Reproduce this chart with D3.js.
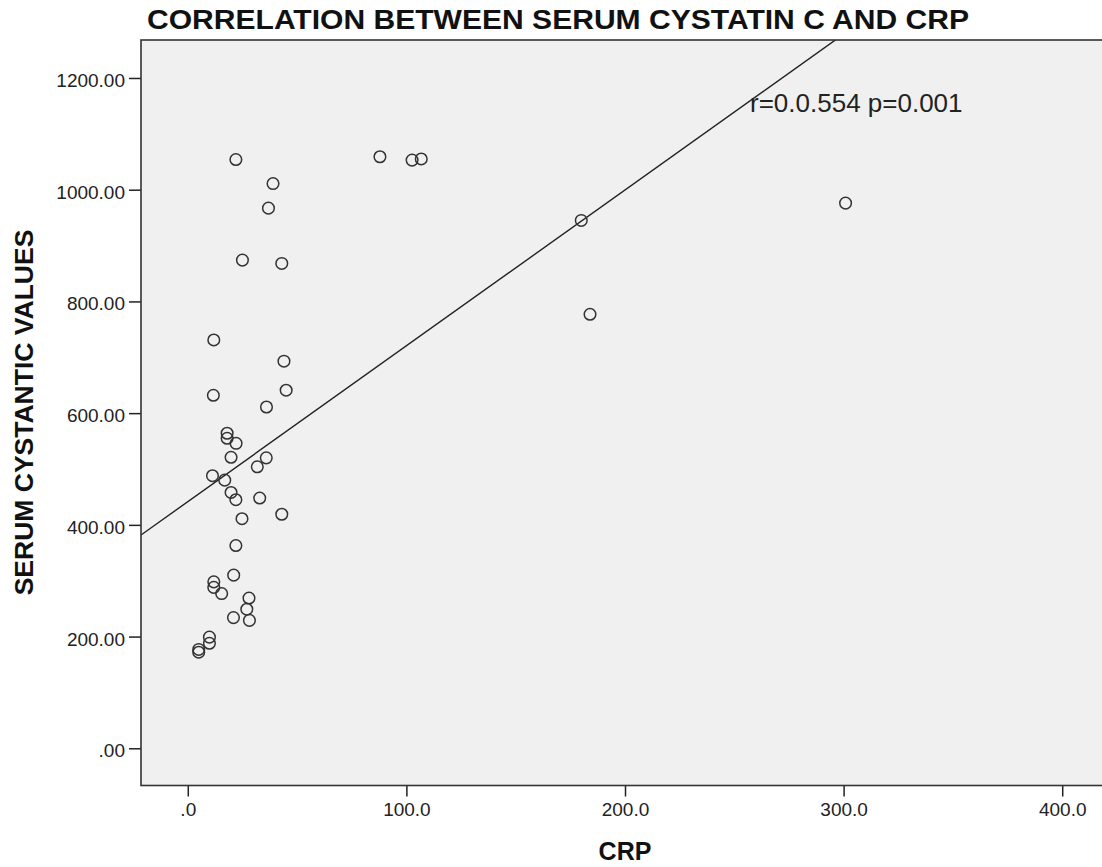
<!DOCTYPE html>
<html>
<head>
<meta charset="utf-8">
<script src="https://cdn.jsdelivr.net/npm/d3@7"></script>
<style>
    body { margin: 0; background: #fff; }
    svg { display: block; font-family: Arial, 'Liberation Sans', sans-serif; }
</style>
</head>
<body>
<svg class="scatter" width="1102" height="867"></svg>
<script>
// CRP (x) and serum cystatin C (y)
const crp = [
    22.0, 39.0, 36.9, 25.0, 43.0, 11.9, 44.0, 11.7, 45.0, 36.0,
    18.0, 18.0, 22.1, 19.8, 35.9, 31.8, 11.3, 16.9, 19.8, 22.0,
    32.9, 43.0, 24.8, 22.0, 21.0, 11.9, 11.9, 15.5, 28.0, 27.0,
    20.9, 28.2, 9.9, 9.9, 5.0, 5.0, 87.9, 102.6, 106.8, 180.0,
    184.0, 300.9
];
const cystatin = [
    1054, 1011, 967, 874, 868, 731, 693, 632, 641, 611,
    564, 555, 546, 521, 520, 504, 488, 480, 458, 445,
    448, 419, 411, 363, 310, 298, 288, 277, 269, 249,
    234, 229, 199, 188, 177, 172, 1059, 1053, 1055, 945,
    777, 976
];

const xTicks = [0, 100, 200, 300, 400];
const xTickLabels = ['.0', '100.0', '200.0', '300.0', '400.0'];
const yTicks = [0, 200, 400, 600, 800, 1000, 1200];
const yTickLabels = ['.00', '200.00', '400.00', '600.00', '800.00', '1000.00', '1200.00'];

// fit line drawn on the chart
const fitIntercept = 441.5;
const fitSlope = 2.79;

const titleText = 'CORRELATION BETWEEN SERUM CYSTATIN C AND CRP';
const xTitle = 'CRP';
const yTitle = 'SERUM CYSTANTIC VALUES';
const note = 'r=0.0.554 p=0.001';

const data = crp.map((c, i) => ({ crp: c, cys: cystatin[i] }));

const svg = d3.select('.scatter');

// plot box (right side runs past the picture edge, as in the original)
const box = { left: 141, top: 40, right: 1109, bottom: 785.5 };

const xScale = d3.scaleLinear()
    .domain([-21.4, 421.4])
    .range([box.left, box.right]);

const yScale = d3.scaleLinear()
    .domain([-66.6, 1268])
    .range([box.bottom, box.top]);

svg.append('defs').append('clipPath')
    .attr('id', 'plotClip')
    .append('rect')
    .attr('x', box.left)
    .attr('y', box.top)
    .attr('width', box.right - box.left)
    .attr('height', box.bottom - box.top);

// background of the plot area
svg.append('rect')
    .attr('x', box.left)
    .attr('y', box.top)
    .attr('width', box.right - box.left)
    .attr('height', box.bottom - box.top)
    .attr('fill', '#f0f0f0');

// y axis
const yAxis = svg.append('g')
    .attr('transform', `translate(${box.left}, 0)`)
    .call(d3.axisLeft(yScale)
        .tickValues(yTicks)
        .tickFormat((d, i) => yTickLabels[i])
        .tickSize(12)
        .tickSizeOuter(0)
        .tickPadding(4));
yAxis.select('.domain').remove();
yAxis.selectAll('line').attr('stroke', '#222').attr('stroke-width', 1.5);
yAxis.selectAll('text')
    .attr('font-size', 19)
    .attr('fill', '#222')
    .attr('dy', '0.45em');

// x axis
const xAxis = svg.append('g')
    .attr('transform', `translate(0, ${box.bottom})`)
    .call(d3.axisBottom(xScale)
        .tickValues(xTicks)
        .tickFormat((d, i) => xTickLabels[i])
        .tickSize(11)
        .tickSizeOuter(0)
        .tickPadding(6));
xAxis.select('.domain').remove();
xAxis.selectAll('line').attr('stroke', '#222').attr('stroke-width', 1.5);
xAxis.selectAll('text')
    .attr('font-size', 19)
    .attr('fill', '#222');

const plot = svg.append('g').attr('clip-path', 'url(#plotClip)');

// regression line
const fitX = xScale.domain();
plot.append('line')
    .attr('x1', xScale(fitX[0]))
    .attr('y1', yScale(fitIntercept + fitSlope * fitX[0]))
    .attr('x2', xScale(fitX[1]))
    .attr('y2', yScale(fitIntercept + fitSlope * fitX[1]))
    .attr('stroke', '#222')
    .attr('stroke-width', 1.4);

// points
plot.append('g')
    .selectAll('circle')
    .data(data)
    .join('circle')
    .attr('cx', d => xScale(d.crp))
    .attr('cy', d => yScale(d.cys))
    .attr('r', 5.8)
    .attr('fill', 'none')
    .attr('stroke', '#333')
    .attr('stroke-width', 1.5);

// annotation
svg.append('text')
    .attr('x', 750)
    .attr('y', 112)
    .attr('font-size', 26)
    .attr('fill', '#222')
    .text(note);

// plot border
svg.append('rect')
    .attr('x', box.left)
    .attr('y', box.top)
    .attr('width', box.right - box.left)
    .attr('height', box.bottom - box.top)
    .attr('fill', 'none')
    .attr('stroke', '#333')
    .attr('stroke-width', 1.6);

// titles
svg.append('text')
    .attr('x', 147)
    .attr('y', 28.5)
    .attr('font-size', 27)
    .attr('font-weight', 'bold')
    .attr('fill', '#111')
    .attr('textLength', 822)
    .attr('lengthAdjust', 'spacingAndGlyphs')
    .text(titleText);

svg.append('text')
    .attr('x', xScale(200))
    .attr('y', 860)
    .attr('text-anchor', 'middle')
    .attr('font-size', 25)
    .attr('font-weight', 'bold')
    .attr('fill', '#111')
    .text(xTitle);

svg.append('text')
    .attr('transform', `translate(33, ${(225 + 600) / 2}) rotate(-90)`)
    .attr('text-anchor', 'middle')
    .attr('font-size', 26.5)
    .attr('font-weight', 'bold')
    .attr('fill', '#111')
    .text(yTitle);
</script>
</body>
</html>
